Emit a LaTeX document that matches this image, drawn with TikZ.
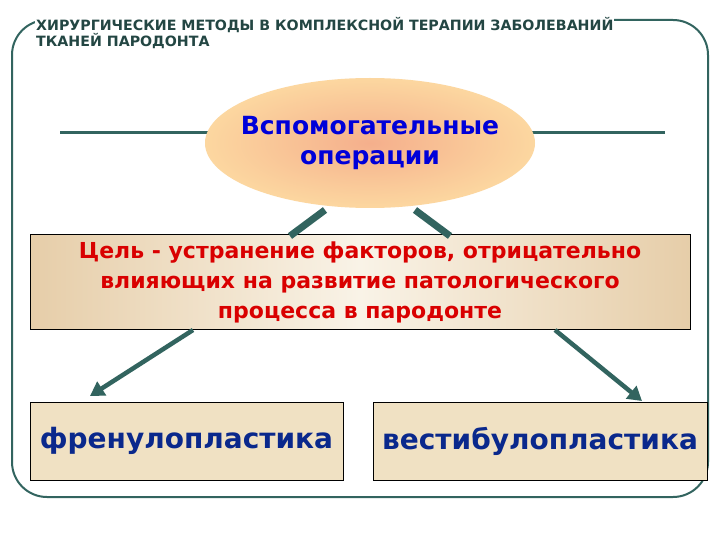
\documentclass[tikz,border=0pt]{standalone}
\usepackage{fontspec}
\setmainfont{DejaVu Sans}
\usetikzlibrary{shapes.geometric,arrows.meta}
\definecolor{teal}{RGB}{50,100,95}
\definecolor{paper}{RGB}{240,225,195}
\definecolor{dblue}{RGB}{10,40,140}
\definecolor{peach}{RGB}{245,175,140}
\definecolor{lpeach}{RGB}{252,215,160}
\tikzset{
 lbl/.style={font=\bfseries\fontsize{28}{34}\selectfont,text=dblue},
 box/.style={draw=black,line width=0.8pt,fill=paper,inner sep=0pt},
 link/.style={teal,line width=3pt},
 arr/.style={teal,line width=4.5pt,-{Triangle[length=14pt,width=16pt]}}
}
\begin{document}
\begin{tikzpicture}[x=1pt,y=-1pt]
\useasboundingbox (0,0) rectangle (720,540);
\fill[white] (0,0) rectangle (720,540);
\draw[teal,line width=2pt,rounded corners=35pt] (12,20) rectangle (708,497);
\node[anchor=north west,align=left,text=teal!70!black,font=\bfseries\fontsize{14.2}{14}\selectfont,fill=white,inner sep=1pt] (title) at (35,16) {ХИРУРГИЧЕСКИЕ МЕТОДЫ В КОМПЛЕКСНОЙ ТЕРАПИИ ЗАБОЛЕВАНИЙ\\ТКАНЕЙ ПАРОДОНТА};
\coordinate (l1) at (60,133); \coordinate (l2) at (210,133);
\coordinate (r1) at (530,133); \coordinate (r2) at (665,133);
\draw[link] (l1) -- (l2); \draw[link] (r1) -- (r2);
\shade[inner color=peach,outer color=lpeach] (370,143) ellipse [x radius=165pt,y radius=65pt];
\node[align=center,font=\bfseries\fontsize{25}{30}\selectfont,text=blue!85!black] (ell) at (370,143) {Вспомогательные\\операции};
\node[box,minimum width=660pt,minimum height=95pt,left color=paper!80!brown,right color=paper!80!brown,middle color=paper!40,align=center,text=red!85!black,font=\bfseries\fontsize{22}{30}\selectfont] (goal) at (360,282) {Цель - устранение факторов, отрицательно\\влияющих на развитие патологического\\процесса в пародонте};
\draw[teal,line width=7pt] (325,210) -- (290,236);
\draw[teal,line width=7pt] (415,210) -- (450,236);
\node[box,minimum width=313pt,minimum height=78pt,lbl] (fren) at (186.5,441) {френулопластика};
\node[box,minimum width=334pt,minimum height=78pt,lbl] (vest) at (540,441) {вестибулопластика};
\coordinate (a1) at (193,330); \coordinate (a1e) at (90,396);
\coordinate (a2) at (555,330); \coordinate (a2e) at (642,401);
\draw[arr] (a1) -- (a1e);
\draw[arr] (a2) -- (a2e);
\end{tikzpicture}
\end{document}
